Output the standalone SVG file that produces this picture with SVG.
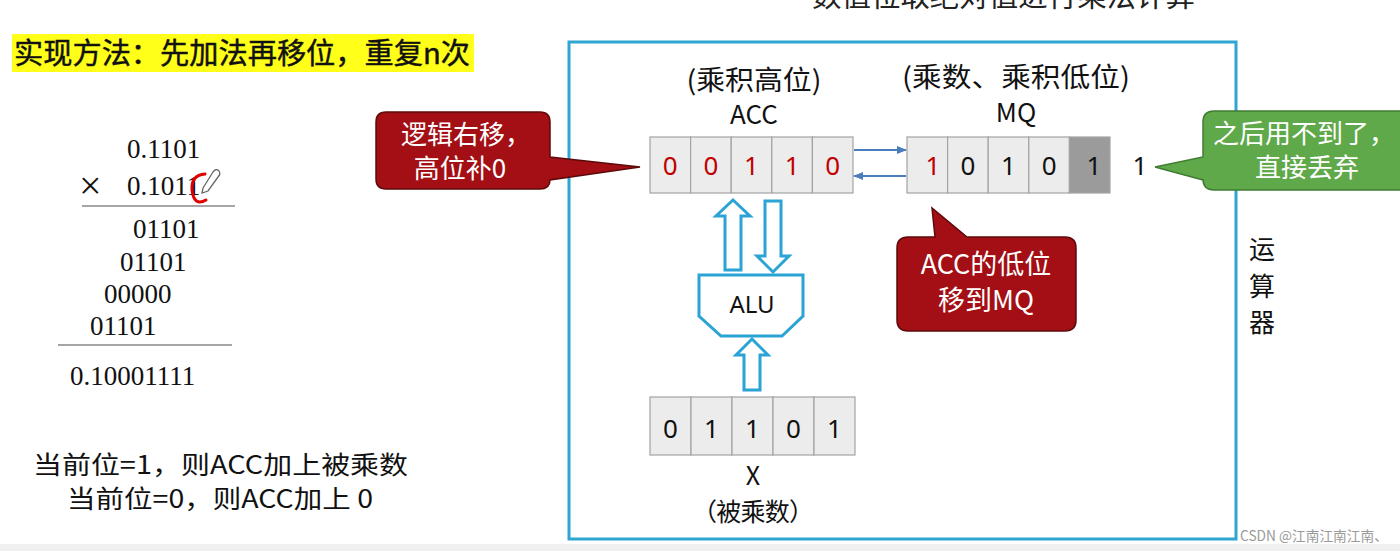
<svg xmlns="http://www.w3.org/2000/svg" width="1400" height="551" viewBox="0 0 1400 551">
<defs>
<style>
.cjk{font-family:"Noto Sans CJK SC","Noto Sans",sans-serif;}
.ser{font-family:"Liberation Serif","Times New Roman",serif;font-size:27px;fill:#111;}
.cell{fill:#ececec;stroke:#a3a3a3;stroke-width:1.2;}
.dark{fill:#9b9b9b;stroke:#a3a3a3;stroke-width:1.2;}
.dg{font-family:"Noto Sans","Noto Sans CJK SC",sans-serif;font-size:26px;text-anchor:middle;fill:#111;}
.red{fill:#c00000;}
.lbl{font-family:"Noto Sans CJK SC","Noto Sans",sans-serif;font-size:26px;text-anchor:middle;fill:#111;}
.hollow{fill:#fff;stroke:#2aa4d4;stroke-width:3;stroke-linejoin:miter;}
.conn{stroke:#4a7ebb;stroke-width:2;fill:none;}
.callr{fill:#a30f14;stroke:#5e0a0a;stroke-width:1.5;}
.callg{fill:#60a94b;stroke:#3f7c31;stroke-width:1.5;}
.wt{font-family:"Noto Sans CJK SC","Noto Sans",sans-serif;font-size:26px;fill:#fff;text-anchor:middle;}
</style>
<marker id="ah" viewBox="0 0 10 10" refX="9" refY="5" markerWidth="5" markerHeight="5" orient="auto-start-reverse" markerUnits="strokeWidth">
<path d="M0,1 L10,5 L0,9 Z" fill="#4a7ebb"/>
</marker>
</defs>
<rect width="1400" height="551" fill="#fff"/>
<rect x="0" y="544" width="1400" height="7" fill="#f0f0f0"/>

<g id="top-caption">
<text class="cjk" x="812" y="7" font-size="29" fill="#222" textLength="383" lengthAdjust="spacingAndGlyphs">数值位取绝对值进行乘法计算</text>
</g>

<g id="title">
<rect x="12" y="34" width="462" height="38" fill="#ffff1a"/>
<text class="cjk" x="14" y="64" font-size="29" fill="#111" stroke="#111" stroke-width="0.45" textLength="456" lengthAdjust="spacingAndGlyphs">实现方法：先加法再移位，重复n次</text>
</g>

<g id="calculation">
<text class="ser" x="127" y="158">0.1101</text>
<text class="ser" x="79" y="199" style="font-size:40px">×</text>
<text class="ser" x="127" y="195">0.1011</text>
<path d="M205,174 Q191,175 192,190 Q194,207 206,200" fill="none" stroke="#e00000" stroke-width="3" stroke-linecap="round"/>
<path d="M203,188 L213,172 Q216,168 219,171 Q221,174 218,177 L208,191 L202,193 Z" fill="#fff" stroke="#666" stroke-width="1.3"/>
<line x1="82" y1="206" x2="235" y2="206" stroke="#888" stroke-width="1.5"/>
<text class="ser" x="133" y="238">01101</text>
<text class="ser" x="120" y="271">01101</text>
<text class="ser" x="104" y="303">00000</text>
<text class="ser" x="90" y="335">01101</text>
<line x1="58" y1="345" x2="232" y2="345" stroke="#888" stroke-width="1.5"/>
<text class="ser" x="70" y="385">0.10001111</text>
</g>

<g id="notes">
<text class="cjk" x="33" y="474" font-size="25" fill="#111" textLength="375" lengthAdjust="spacingAndGlyphs">当前位=1，则ACC加上被乘数</text>
<text class="cjk" x="67" y="508" font-size="25" fill="#111" textLength="306" lengthAdjust="spacingAndGlyphs">当前位=0，则ACC加上 0</text>
</g>

<g id="alu-frame">
<rect x="569" y="42" width="667" height="497" fill="none" stroke="#2ea6cf" stroke-width="3"/>
<text class="lbl" x="1262" y="259">运</text>
<text class="lbl" x="1262" y="296">算</text>
<text class="lbl" x="1262" y="332">器</text>
</g>

<g id="acc">
<text class="lbl" x="754" y="90" style="font-size:27px" textLength="135" lengthAdjust="spacingAndGlyphs">(乘积高位)</text>
<text class="lbl" x="754" y="124">ACC</text>
<rect class="cell" x="650" y="137" width="40.6" height="56"/>
<rect class="cell" x="690.6" y="137" width="40.6" height="56"/>
<rect class="cell" x="731.2" y="137" width="40.6" height="56"/>
<rect class="cell" x="771.8" y="137" width="40.6" height="56"/>
<rect class="cell" x="812.4" y="137" width="40.6" height="56"/>
<text class="dg red" x="670.3" y="175">0</text>
<text class="dg red" x="710.9" y="175">0</text>
<text class="dg red" x="751.5" y="175">1</text>
<text class="dg red" x="792.1" y="175">1</text>
<text class="dg red" x="832.7" y="175">0</text>
</g>

<g id="mq">
<text class="lbl" x="1016" y="87" style="font-size:27px" textLength="228" lengthAdjust="spacingAndGlyphs">(乘数、乘积低位)</text>
<text class="lbl" x="1016" y="122">MQ</text>
<rect class="cell" x="907" y="137" width="40.6" height="56"/>
<rect class="cell" x="947.6" y="137" width="40.6" height="56"/>
<rect class="cell" x="988.2" y="137" width="40.6" height="56"/>
<rect class="cell" x="1028.8" y="137" width="40.6" height="56"/>
<rect class="dark" x="1069.4" y="137" width="40.6" height="56"/>
<text class="dg red" x="933" y="175">1</text>
<text class="dg" x="967.9" y="175">0</text>
<text class="dg" x="1008.5" y="175">1</text>
<text class="dg" x="1049.1" y="175">0</text>
<text class="dg" x="1094" y="175">1</text>
<text class="dg" x="1140" y="175">1</text>
</g>

<g id="alu">
<path class="hollow" d="M699,275 H803 V316 L782,336 H721 L699,316 Z"/>
<text class="dg" x="752" y="313" style="font-size:24px">ALU</text>
</g>

<g id="x-register">
<rect class="cell" x="650" y="397" width="41" height="58"/>
<rect class="cell" x="691" y="397" width="41" height="58"/>
<rect class="cell" x="732" y="397" width="41" height="58"/>
<rect class="cell" x="773" y="397" width="41" height="58"/>
<rect class="cell" x="814" y="397" width="41" height="58"/>
<text class="dg" x="670.5" y="438">0</text>
<text class="dg" x="711.5" y="438">1</text>
<text class="dg" x="752.5" y="438">1</text>
<text class="dg" x="793.5" y="438">0</text>
<text class="dg" x="834.5" y="438">1</text>
<text class="lbl" x="753" y="485" style="font-size:25px">X</text>
<text class="lbl" x="753" y="521" style="font-size:25px" textLength="122" lengthAdjust="spacing">（被乘数）</text>
</g>

<g id="connectors">
<line class="conn" x1="854" y1="150" x2="906" y2="150" marker-end="url(#ah)"/>
<line class="conn" x1="906" y1="176" x2="854" y2="176" marker-end="url(#ah)"/>
<path class="hollow" d="M733,200 L750,216 H741 V270 H725 V216 H716 Z"/>
<path class="hollow" d="M765,201 H781 V256 H789 L773,272 L757,256 H765 Z"/>
<path class="hollow" d="M752,339 L768,355 H760 V390 H744 V355 H736 Z"/>
</g>

<g id="callout-shift">
<path class="callr" d="M386,112 H540 Q550,112 550,122 V157 L640,167 L550,180 Q550,189 540,189 H386 Q376,189 376,179 V122 Q376,112 386,112 Z"/>
<text class="wt" x="466" y="144">逻辑右移，</text>
<text class="wt" x="460" y="178">高位补0</text>
</g>

<g id="callout-low">
<path class="callr" d="M908,237 H935 L932,208 L967,237 H1065 Q1076,237 1076,248 V320 Q1076,331 1065,331 H908 Q897,331 897,320 V248 Q897,237 908,237 Z"/>
<text class="wt" x="986" y="274" style="font-size:27px">ACC的低位</text>
<text class="wt" x="986" y="310" style="font-size:27px">移到MQ</text>
</g>

<g id="callout-discard">
<path class="callg" d="M1214,111 H1410 V190 H1214 Q1203,190 1203,179 V180 L1155,167 L1203,157 V122 Q1203,111 1214,111 Z"/>
<text class="wt" x="1304" y="143">之后用不到了，</text>
<text class="wt" x="1307" y="177">直接丢弃</text>
</g>

<g id="watermark">
<text x="1240" y="541" font-family="Noto Sans CJK SC, Noto Sans, sans-serif" font-size="14" fill="#9a9a9a" textLength="148" lengthAdjust="spacingAndGlyphs">CSDN @江南江南江南、</text>
</g>
</svg>
